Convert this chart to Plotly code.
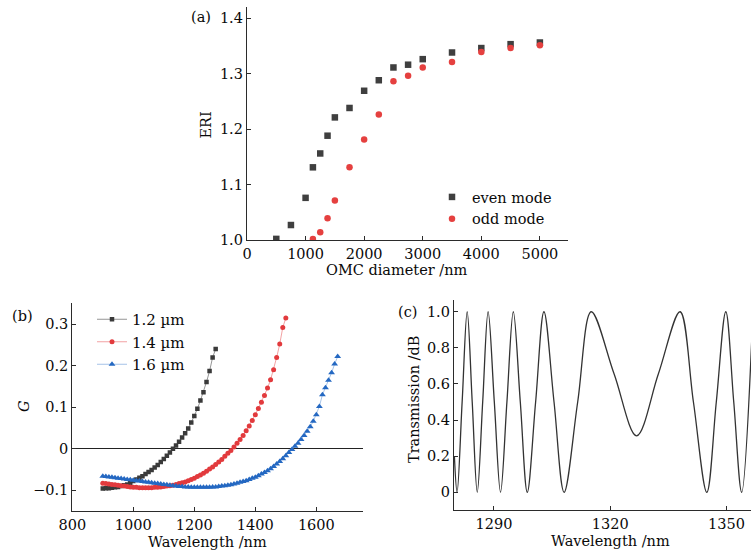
import plotly.graph_objects as go

# ---------------- panel (a) data ----------------
even_d = [500, 750, 1000, 1125, 1250, 1375, 1500, 1750, 2000, 2250, 2500, 2750, 3000, 3500, 4000, 4500, 5000]
even_eri = [1.002, 1.027, 1.076, 1.131, 1.156, 1.188, 1.221, 1.238, 1.269, 1.288, 1.311, 1.316, 1.326, 1.338, 1.346, 1.353, 1.356]
odd_d = [1125, 1250, 1375, 1500, 1750, 2000, 2250, 2500, 2750, 3000, 3500, 4000, 4500, 5000]
odd_eri = [1.002, 1.014, 1.039, 1.071, 1.131, 1.181, 1.226, 1.286, 1.296, 1.311, 1.321, 1.339, 1.346, 1.351]

# ---------------- panel (b) data ----------------
wl_12 = list(range(900, 1271, 10))
g_12 = [-0.096, -0.095, -0.095, -0.094, -0.093, -0.092, -0.090, -0.088, -0.086, -0.083,
        -0.078, -0.074, -0.070, -0.066, -0.061, -0.056, -0.051, -0.045, -0.039, -0.032,
        -0.025, -0.017, -0.009, 0.000, 0.008, 0.017, 0.027, 0.037, 0.049, 0.063,
        0.079, 0.096, 0.116, 0.136, 0.161, 0.187, 0.220, 0.240]
wl_14 = list(range(900, 1501, 10))
g_14 = [-0.083, -0.084, -0.085, -0.086, -0.087, -0.088, -0.089, -0.090, -0.091, -0.092,
        -0.093, -0.093, -0.094, -0.094, -0.094, -0.094, -0.094, -0.093, -0.093, -0.092,
        -0.091, -0.090, -0.089, -0.088, -0.086, -0.084, -0.082, -0.080, -0.077, -0.074,
        -0.071, -0.067, -0.063, -0.059, -0.054, -0.049, -0.044, -0.038, -0.032, -0.026,
        -0.018, -0.011, -0.004, 0.004, 0.013, 0.022, 0.032, 0.043, 0.055, 0.068,
        0.082, 0.097, 0.112, 0.128, 0.146, 0.166, 0.190, 0.220, 0.252, 0.292, 0.315]
wl_16 = list(range(900, 1671, 10))
g_16 = [-0.066, -0.067, -0.068, -0.069, -0.070, -0.071, -0.072, -0.073, -0.074, -0.075,
        -0.076, -0.077, -0.078, -0.079, -0.080, -0.081, -0.082, -0.083, -0.084, -0.085,
        -0.086, -0.087, -0.088, -0.089, -0.090, -0.091, -0.091, -0.092, -0.092, -0.093,
        -0.093, -0.093, -0.093, -0.093, -0.093, -0.093, -0.092, -0.092, -0.091, -0.090,
        -0.089, -0.088, -0.087, -0.085, -0.083, -0.081, -0.079, -0.077, -0.074, -0.071,
        -0.069, -0.065, -0.061, -0.057, -0.053, -0.048, -0.043, -0.037, -0.031, -0.024,
        -0.017, -0.009, -0.002, 0.006, 0.013, 0.022, 0.032, 0.042, 0.053, 0.066,
        0.082, 0.102, 0.130, 0.147, 0.165, 0.183, 0.204, 0.222]

# ---------------- panel (c) data ----------------
c_wl = [1279.8, 1280.5, 1281.8, 1283.1, 1284.4, 1285.7, 1287.1, 1288.5, 1290.1, 1291.7,
        1293.35, 1295.0, 1296.8, 1298.6, 1300.75, 1302.9, 1305.5, 1308.1, 1311.6, 1315.1,
        1321.0, 1326.8, 1332.4, 1338.0, 1341.45, 1344.9, 1347.35, 1349.8, 1351.85, 1353.9, 1356.5]
c_T = [0.2, 0.0, 0.5, 1.0, 0.5, 0.0, 0.5, 1.0, 0.5, 0.0,
       0.5, 1.0, 0.5, 0.0, 0.5, 1.0, 0.5, 0.0, 0.5, 1.0,
       0.655, 0.313, 0.655, 1.0, 0.5, 0.0, 0.5, 1.0, 0.5, 0.0, 0.85]

# tick labels
a_xticks = [0, 1000, 2000, 3000, 4000, 5000]
a_yticks = [1.0, 1.1, 1.2, 1.3, 1.4]
a_yticktext = ["1.0", "1.1", "1.2", "1.3", "1.4"]
b_xticks = [800, 1000, 1200, 1400, 1600]
b_yticks = [-0.1, 0, 0.1, 0.2, 0.3]
b_yticktext = ["\u22120.1", "0", "0.1", "0.2", "0.3"]
c_xticks = [1290, 1320, 1350]
c_yticks = [0, 0.2, 0.4, 0.6, 0.8, 1.0]
c_yticktext = ["0", "0.2", "0.4", "0.6", "0.8", "1.0"]

FONT = "DejaVu Serif"
FS = 14.5
INK = "#2b2b2b"
TXT = "#0a0a0a"
W, H = 751, 558


def px_x(p):
    return p / W


def px_y(p):
    return 1 - p / H


fig = go.Figure()

# panel (a)
fig.add_trace(go.Scatter(x=even_d, y=even_eri, mode="markers", name="even mode",
                         marker=dict(symbol="square", size=6.5, color="#3f3f3f"),
                         xaxis="x", yaxis="y", legend="legend"))
fig.add_trace(go.Scatter(x=odd_d, y=odd_eri, mode="markers", name="odd mode",
                         marker=dict(symbol="circle", size=6.5, color="#e5403f"),
                         xaxis="x", yaxis="y", legend="legend"))

# panel (b)
fig.add_trace(go.Scatter(x=wl_12, y=g_12, mode="lines+markers", name="1.2 \u00b5m",
                         line=dict(color="#7a7a7a", width=0.8),
                         marker=dict(symbol="square", size=4.5, color="#3a3a3a"),
                         xaxis="x2", yaxis="y2", legend="legend2"))
fig.add_trace(go.Scatter(x=wl_14, y=g_14, mode="lines+markers", name="1.4 \u00b5m",
                         line=dict(color="#ef8a8b", width=0.8),
                         marker=dict(symbol="circle", size=5, color="#e23a3d"),
                         xaxis="x2", yaxis="y2", legend="legend2"))
fig.add_trace(go.Scatter(x=wl_16, y=g_16, mode="lines+markers", name="1.6 \u00b5m",
                         line=dict(color="#8fb4e2", width=0.8),
                         marker=dict(symbol="triangle-up", size=6, color="#2468c2"),
                         xaxis="x2", yaxis="y2", legend="legend2"))

# panel (c)
fig.add_trace(go.Scatter(x=c_wl, y=c_T, mode="lines", line=dict(color="#333333", width=1.3, shape="spline", smoothing=1.0),
                         showlegend=False, xaxis="x3", yaxis="y3"))

axis_common = dict(showline=True, linecolor=INK, linewidth=1.3, ticks="inside", ticklen=4,
                   tickcolor=INK, tickwidth=1.2, showgrid=False, zeroline=False, automargin=False,
                   tickfont=dict(family=FONT, size=FS, color=TXT), mirror=False)

fig.update_layout(
    width=W, height=H, autosize=False, margin=dict(l=0, r=0, t=0, b=0, pad=0, autoexpand=False),
    paper_bgcolor="white", plot_bgcolor="white",
    font=dict(family=FONT, size=FS, color=TXT),
    xaxis=dict(domain=[px_x(247), px_x(568)], range=[0, 5480], anchor="y",
               tickmode="array", tickvals=a_xticks, **axis_common),
    yaxis=dict(domain=[px_y(240), px_y(7)], range=[1.0, 1.42], anchor="x",
               tickmode="array", tickvals=a_yticks, ticktext=a_yticktext, **axis_common),
    xaxis2=dict(domain=[px_x(72.3), px_x(363)], range=[800, 1753], anchor="y2",
                tickmode="array", tickvals=b_xticks, **axis_common),
    yaxis2=dict(domain=[px_y(511), px_y(303)], range=[-0.15, 0.351], anchor="x2",
                tickmode="array", tickvals=b_yticks, ticktext=b_yticktext,
                **{k: v for k, v in axis_common.items() if k != "zeroline"},
                zeroline=True, zerolinecolor="#222", zerolinewidth=1.3),
    xaxis3=dict(domain=[px_x(454), 1.0], range=[1279.7, 1356.3], anchor="y3",
                tickmode="array", tickvals=c_xticks, **axis_common),
    yaxis3=dict(domain=[px_y(510), px_y(300)], range=[-0.098, 1.065], anchor="x3",
                tickmode="array", tickvals=c_yticks, ticktext=c_yticktext, **axis_common),
    legend=dict(x=px_x(432), y=px_y(181), xanchor="left", yanchor="top",
                bgcolor="rgba(0,0,0,0)", font=dict(family=FONT, size=14.5, color=TXT),
                tracegroupgap=0, itemclick=False),
    legend2=dict(x=px_x(92), y=px_y(303), xanchor="left", yanchor="top",
                 bgcolor="rgba(0,0,0,0)", font=dict(family=FONT, size=FS + 0.5, color=TXT),
                 tracegroupgap=0, itemclick=False),
)

ann_font = dict(family=FONT, size=FS, color=TXT)


def ann(text, cx, cy, angle=0):
    return dict(text=text, x=px_x(cx), y=px_y(cy), xref="paper", yref="paper", showarrow=False,
                xanchor="center", yanchor="middle", textangle=angle, font=ann_font)


annotations = [
    ann("(a)", 201, 17),
    ann("(b)", 22, 316),
    ann("(c)", 407, 312),
    ann("ERI", 205.5, 125, -90),
    ann("OMC diameter /nm", 397, 270),
    ann("<i>G</i>", 24, 406, -90),
    ann("Wavelength /nm", 207, 542),
    ann("Transmission /dB", 414, 400, -90),
    ann("Wavelength /nm", 610, 541),
]
fig.update_layout(annotations=annotations)

fig.write_html("out.html", config={"displayModeBar": False},
               post_script="document.body.style.margin='0';document.body.style.overflow='hidden';")
